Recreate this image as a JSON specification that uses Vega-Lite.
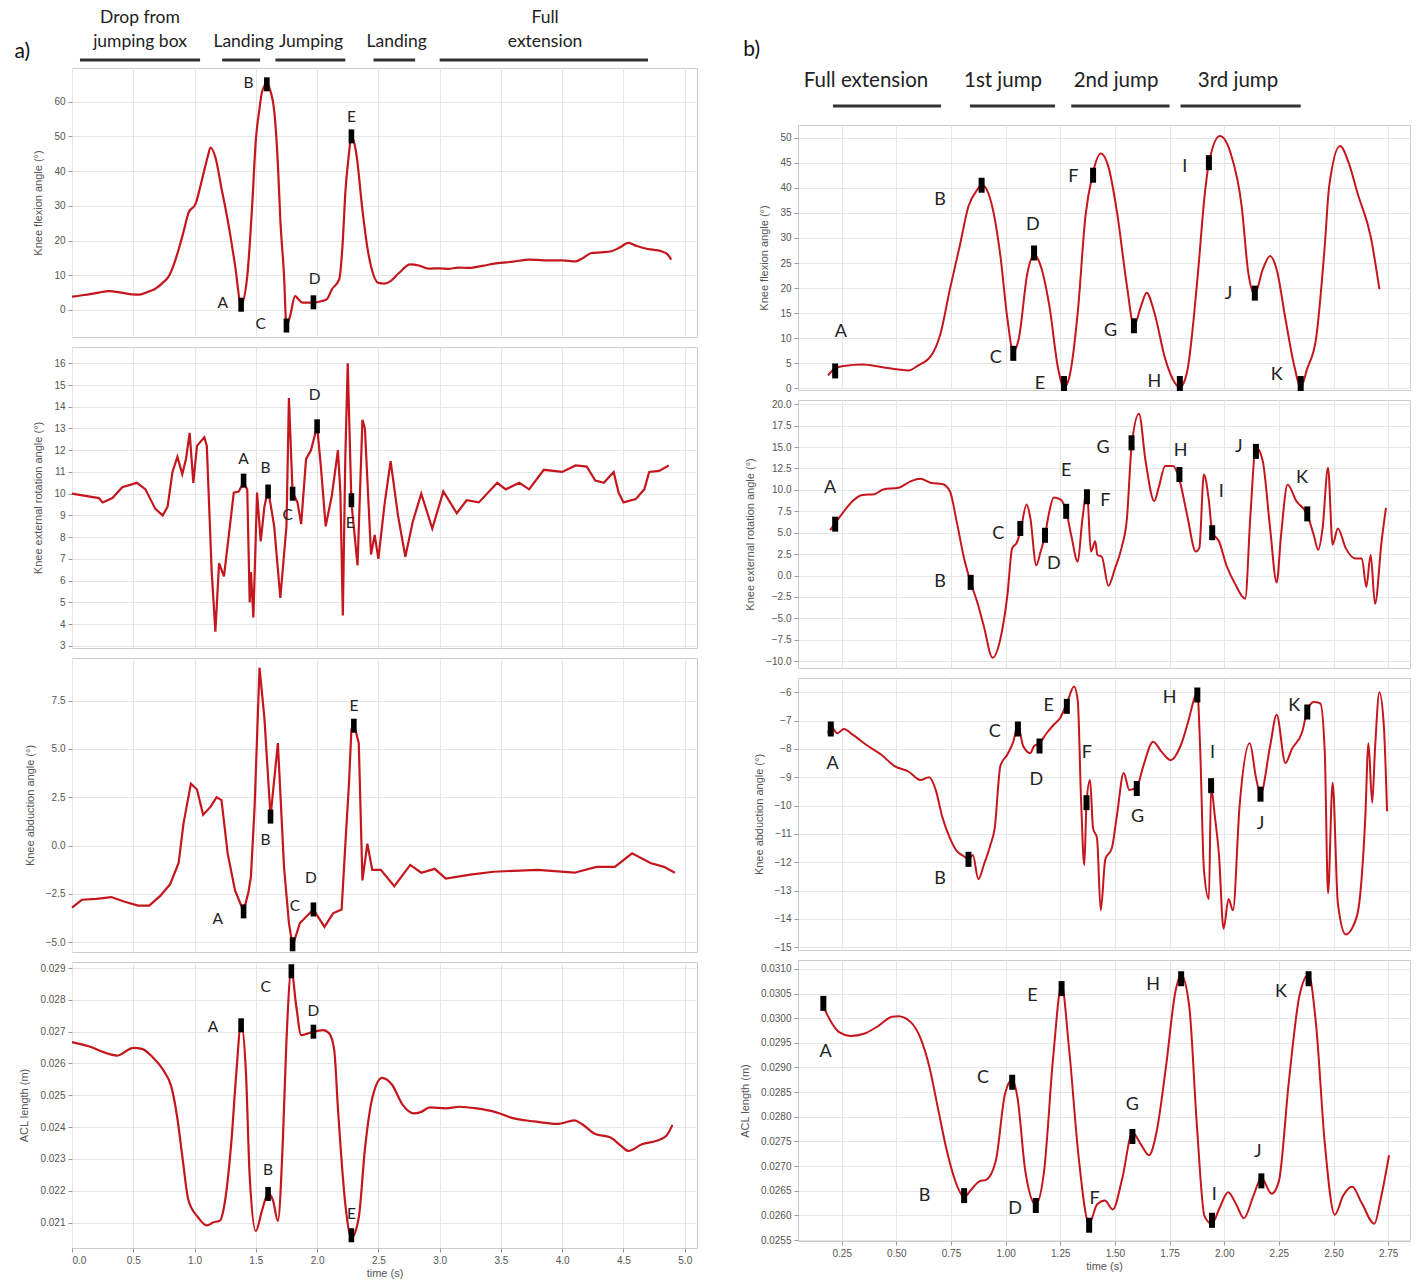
{
"$schema": "https://vega.github.io/schema/vega-lite/v6.json",
"background": "white",
"padding": {"left": 14, "top": 8, "right": 5, "bottom": 2},
"spacing": 40,
"datasets": {
"hdrA": [
{"tc": 0.555, "t0": 0.065, "t1": 1.045, "line1": "Drop from", "line2": "jumping box"},
{"tc": 1.40, "t0": 1.225, "t1": 1.535, "line1": "", "line2": "Landing"},
{"tc": 1.95, "t0": 1.66, "t1": 2.23, "line1": "", "line2": "Jumping"},
{"tc": 2.65, "t0": 2.46, "t1": 2.80, "line1": "", "line2": "Landing"},
{"tc": 3.86, "t0": 3.0, "t1": 4.70, "line1": "Full", "line2": "extension"}
],
"hdrB": [
{"tc": 0.361, "t0": 0.21, "t1": 0.704, "line2": "Full extension"},
{"tc": 0.988, "t0": 0.837, "t1": 1.226, "line2": "1st jump"},
{"tc": 1.505, "t0": 1.30, "t1": 1.75, "line2": "2nd jump"},
{"tc": 2.063, "t0": 1.80, "t1": 2.35, "line2": "3rd jump"}
],
"Lflex": [
{"t":0,"v":3.8},{"t":0.1,"v":4.3},{"t":0.22,"v":5.0},{"t":0.30,"v":5.4},{"t":0.40,"v":5.0},{"t":0.49,"v":4.5},{"t":0.55,"v":4.4},{"t":0.62,"v":5.2},{"t":0.68,"v":6.1},{"t":0.74,"v":7.8},{"t":0.79,"v":9.7},{"t":0.83,"v":13},{"t":0.87,"v":17.4},{"t":0.91,"v":22.5},{"t":0.95,"v":27.9},{"t":1.01,"v":30.7},{"t":1.05,"v":36},{"t":1.08,"v":40.3},{"t":1.11,"v":44.5},{"t":1.13,"v":46.8},{"t":1.17,"v":44},{"t":1.22,"v":35},{"t":1.28,"v":24},{"t":1.33,"v":13},{"t":1.38,"v":1.6},{"t":1.43,"v":9.7},{"t":1.47,"v":30},{"t":1.50,"v":48.9},{"t":1.53,"v":58},{"t":1.55,"v":62.7},{"t":1.59,"v":65.3},{"t":1.62,"v":63},{"t":1.65,"v":57.4},{"t":1.68,"v":42},{"t":1.70,"v":26},{"t":1.73,"v":10},{"t":1.75,"v":-4.6},{"t":1.78,"v":-1.7},{"t":1.82,"v":4.0},{"t":1.85,"v":3},{"t":1.88,"v":2.1},{"t":1.97,"v":2.1},{"t":2.04,"v":2.6},{"t":2.08,"v":3.1},{"t":2.12,"v":5.9},{"t":2.18,"v":8.8},{"t":2.21,"v":20},{"t":2.23,"v":33.6},{"t":2.26,"v":45},{"t":2.28,"v":50.3},{"t":2.32,"v":45},{"t":2.37,"v":28.8},{"t":2.41,"v":18},{"t":2.44,"v":12.6},{"t":2.50,"v":7.8},{"t":2.55,"v":7.6},{"t":2.60,"v":8.3},{"t":2.67,"v":10.7},{"t":2.76,"v":13.1},{"t":2.83,"v":12.8},{"t":2.91,"v":11.9},{"t":3.0,"v":12},{"t":3.07,"v":11.8},{"t":3.15,"v":12.2},{"t":3.24,"v":12.1},{"t":3.35,"v":12.7},{"t":3.46,"v":13.4},{"t":3.6,"v":13.9},{"t":3.73,"v":14.5},{"t":3.85,"v":14.3},{"t":4.00,"v":14.3},{"t":4.11,"v":14.0},{"t":4.18,"v":15.2},{"t":4.24,"v":16.4},{"t":4.32,"v":16.6},{"t":4.40,"v":16.9},{"t":4.47,"v":18},{"t":4.54,"v":19.3},{"t":4.61,"v":18.4},{"t":4.68,"v":17.7},{"t":4.75,"v":17.3},{"t":4.81,"v":16.9},{"t":4.86,"v":16},{"t":4.89,"v":14.5}
],
"MLflex": [
{"label":"A","t":1.38,"v":1.5,"lt":1.23,"lv":1.9},
{"label":"B","t":1.59,"v":65,"lt":1.44,"lv":65.3},
{"label":"C","t":1.75,"v":-4.5,"lt":1.54,"lv":-4.1},
{"label":"D","t":1.97,"v":2.2,"lt":1.98,"lv":8.8},
{"label":"E","t":2.28,"v":50,"lt":2.28,"lv":55.6}
],
"Lrot": [
{"t":0.0,"v":10.0},{"t":0.11,"v":9.9},{"t":0.22,"v":9.8},{"t":0.25,"v":9.6},{"t":0.33,"v":9.8},{"t":0.41,"v":10.3},{"t":0.53,"v":10.5},{"t":0.60,"v":10.2},{"t":0.68,"v":9.3},{"t":0.74,"v":9.0},{"t":0.78,"v":9.4},{"t":0.82,"v":11.0},{"t":0.86,"v":11.7},{"t":0.90,"v":10.9},{"t":0.93,"v":11.6},{"t":0.96,"v":12.8},{"t":0.99,"v":10.5},{"t":1.02,"v":12.2},{"t":1.08,"v":12.6},{"t":1.10,"v":12.2},{"t":1.14,"v":6.4},{"t":1.17,"v":3.65},{"t":1.20,"v":6.8},{"t":1.24,"v":6.2},{"t":1.28,"v":8.1},{"t":1.32,"v":10.05},{"t":1.36,"v":10.1},{"t":1.40,"v":10.5},{"t":1.43,"v":10.2},{"t":1.45,"v":5.0},{"t":1.46,"v":6.4},{"t":1.48,"v":4.3},{"t":1.51,"v":10.05},{"t":1.54,"v":7.8},{"t":1.57,"v":9.4},{"t":1.60,"v":10.2},{"t":1.65,"v":8.5},{"t":1.70,"v":5.2},{"t":1.75,"v":8.5},{"t":1.77,"v":14.4},{"t":1.80,"v":10.05},{"t":1.84,"v":9.6},{"t":1.87,"v":8.6},{"t":1.91,"v":11.6},{"t":1.95,"v":12.0},{"t":2.00,"v":13.1},{"t":2.03,"v":11.3},{"t":2.07,"v":8.5},{"t":2.12,"v":9.9},{"t":2.17,"v":12.0},{"t":2.19,"v":10.05},{"t":2.21,"v":4.4},{"t":2.23,"v":11.6},{"t":2.25,"v":16.0},{"t":2.28,"v":9.6},{"t":2.33,"v":6.7},{"t":2.37,"v":13.4},{"t":2.39,"v":13.0},{"t":2.44,"v":7.2},{"t":2.47,"v":8.1},{"t":2.50,"v":7.0},{"t":2.55,"v":9.5},{"t":2.60,"v":11.5},{"t":2.66,"v":9.0},{"t":2.72,"v":7.1},{"t":2.78,"v":8.7},{"t":2.85,"v":10.0},{"t":2.94,"v":8.4},{"t":3.03,"v":10.1},{"t":3.14,"v":9.1},{"t":3.22,"v":9.7},{"t":3.32,"v":9.6},{"t":3.47,"v":10.5},{"t":3.54,"v":10.2},{"t":3.65,"v":10.5},{"t":3.73,"v":10.2},{"t":3.85,"v":11.1},{"t":4.00,"v":11.0},{"t":4.11,"v":11.3},{"t":4.20,"v":11.25},{"t":4.27,"v":10.6},{"t":4.34,"v":10.5},{"t":4.42,"v":11.0},{"t":4.46,"v":10.05},{"t":4.50,"v":9.6},{"t":4.60,"v":9.75},{"t":4.67,"v":10.2},{"t":4.71,"v":11.0},{"t":4.79,"v":11.05},{"t":4.87,"v":11.3}
],
"MLrot": [
{"label":"A","t":1.40,"v":10.6,"lt":1.40,"lv":11.6},
{"label":"B","t":1.60,"v":10.1,"lt":1.58,"lv":11.2},
{"label":"C","t":1.80,"v":10.0,"lt":1.76,"lv":9.0},
{"label":"D","t":2.00,"v":13.1,"lt":1.98,"lv":14.55},
{"label":"E","t":2.28,"v":9.7,"lt":2.27,"lv":8.65}
],
"Labd": [
{"t":0,"v":-3.2},{"t":0.08,"v":-2.8},{"t":0.2,"v":-2.75},{"t":0.32,"v":-2.66},{"t":0.43,"v":-2.9},{"t":0.54,"v":-3.1},{"t":0.63,"v":-3.1},{"t":0.72,"v":-2.6},{"t":0.80,"v":-2.0},{"t":0.87,"v":-0.9},{"t":0.91,"v":1.15},{"t":0.97,"v":3.2},{"t":1.02,"v":2.9},{"t":1.07,"v":1.6},{"t":1.13,"v":2.0},{"t":1.18,"v":2.5},{"t":1.22,"v":2.35},{"t":1.27,"v":-0.4},{"t":1.33,"v":-2.3},{"t":1.40,"v":-3.4},{"t":1.44,"v":-2.4},{"t":1.46,"v":-1.6},{"t":1.49,"v":2.0},{"t":1.53,"v":9.2},{"t":1.57,"v":6.6},{"t":1.62,"v":1.5},{"t":1.68,"v":5.3},{"t":1.73,"v":-1.1},{"t":1.77,"v":-4.0},{"t":1.80,"v":-5.2},{"t":1.86,"v":-4.0},{"t":1.97,"v":-3.3},{"t":2.06,"v":-4.2},{"t":2.13,"v":-3.5},{"t":2.20,"v":-3.3},{"t":2.23,"v":0.0},{"t":2.26,"v":3.2},{"t":2.28,"v":6.0},{"t":2.30,"v":6.3},{"t":2.34,"v":5.3},{"t":2.37,"v":-1.8},{"t":2.41,"v":0.1},{"t":2.45,"v":-1.25},{"t":2.52,"v":-1.25},{"t":2.63,"v":-2.1},{"t":2.76,"v":-1.0},{"t":2.85,"v":-1.4},{"t":2.96,"v":-1.2},{"t":3.05,"v":-1.7},{"t":3.25,"v":-1.5},{"t":3.44,"v":-1.35},{"t":3.80,"v":-1.25},{"t":4.10,"v":-1.4},{"t":4.28,"v":-1.1},{"t":4.43,"v":-1.1},{"t":4.57,"v":-0.4},{"t":4.72,"v":-0.9},{"t":4.83,"v":-1.1},{"t":4.92,"v":-1.4}
],
"MLabd": [
{"label":"A","t":1.40,"v":-3.4,"lt":1.19,"lv":-3.8},
{"label":"B","t":1.62,"v":1.5,"lt":1.58,"lv":0.3},
{"label":"C","t":1.80,"v":-5.1,"lt":1.82,"lv":-3.1},
{"label":"D","t":1.97,"v":-3.3,"lt":1.95,"lv":-1.65},
{"label":"E","t":2.30,"v":6.2,"lt":2.30,"lv":7.2}
],
"Lacl": [
{"t":0,"v":0.02667},{"t":0.135,"v":0.02654},{"t":0.30,"v":0.0263},{"t":0.37,"v":0.02625},{"t":0.50,"v":0.02649},{"t":0.57,"v":0.02646},{"t":0.66,"v":0.02619},{"t":0.75,"v":0.02576},{"t":0.81,"v":0.02528},{"t":0.86,"v":0.02427},{"t":0.90,"v":0.02309},{"t":0.95,"v":0.0217},{"t":1.03,"v":0.02116},{"t":1.10,"v":0.02091},{"t":1.15,"v":0.021},{"t":1.21,"v":0.02107},{"t":1.24,"v":0.02148},{"t":1.30,"v":0.02352},{"t":1.34,"v":0.02566},{"t":1.38,"v":0.02726},{"t":1.42,"v":0.02566},{"t":1.45,"v":0.02245},{"t":1.50,"v":0.02073},{"t":1.55,"v":0.02137},{"t":1.60,"v":0.02191},{"t":1.64,"v":0.0217},{"t":1.68,"v":0.02105},{"t":1.72,"v":0.02352},{"t":1.75,"v":0.02673},{"t":1.79,"v":0.02892},{"t":1.83,"v":0.0278},{"t":1.87,"v":0.02689},{"t":1.92,"v":0.02694},{"t":1.97,"v":0.027},{"t":2.05,"v":0.02705},{"t":2.10,"v":0.02694},{"t":2.14,"v":0.02641},{"t":2.17,"v":0.02459},{"t":2.23,"v":0.02159},{"t":2.28,"v":0.02052},{"t":2.34,"v":0.02116},{"t":2.39,"v":0.0233},{"t":2.45,"v":0.02491},{"t":2.53,"v":0.02555},{"t":2.61,"v":0.02534},{"t":2.70,"v":0.02469},{"t":2.79,"v":0.02443},{"t":2.85,"v":0.02448},{"t":2.92,"v":0.02462},{"t":3.05,"v":0.02459},{"t":3.16,"v":0.02464},{"t":3.30,"v":0.02459},{"t":3.45,"v":0.02448},{"t":3.59,"v":0.02429},{"t":3.77,"v":0.02418},{"t":3.96,"v":0.0241},{"t":4.10,"v":0.02421},{"t":4.16,"v":0.0241},{"t":4.27,"v":0.02378},{"t":4.39,"v":0.02368},{"t":4.48,"v":0.02341},{"t":4.54,"v":0.02325},{"t":4.65,"v":0.02346},{"t":4.77,"v":0.02357},{"t":4.85,"v":0.02373},{"t":4.90,"v":0.02407}
],
"MLacl": [
{"label":"A","t":1.38,"v":0.0272,"lt":1.15,"lv":0.02714},
{"label":"B","t":1.60,"v":0.0219,"lt":1.60,"lv":0.02266},
{"label":"C","t":1.79,"v":0.0289,"lt":1.58,"lv":0.02841},
{"label":"D","t":1.97,"v":0.0270,"lt":1.97,"lv":0.02764},
{"label":"E","t":2.28,"v":0.0206,"lt":2.28,"lv":0.02127}
],
"Rflex": [
{"t":0.187,"v":2.6},{"t":0.22,"v":4.0},{"t":0.26,"v":4.5},{"t":0.345,"v":4.8},{"t":0.43,"v":4.3},{"t":0.51,"v":3.8},{"t":0.555,"v":3.6},{"t":0.60,"v":4.6},{"t":0.66,"v":6.6},{"t":0.70,"v":10.6},{"t":0.745,"v":19.8},{"t":0.79,"v":28.4},{"t":0.83,"v":36.3},{"t":0.87,"v":39.6},{"t":0.89,"v":40.6},{"t":0.91,"v":39.9},{"t":0.945,"v":35},{"t":0.976,"v":26.4},{"t":1.008,"v":13.9},{"t":1.035,"v":7.3},{"t":1.06,"v":9.9},{"t":1.10,"v":23.1},{"t":1.13,"v":26.7},{"t":1.155,"v":25.1},{"t":1.20,"v":16.5},{"t":1.24,"v":4.0},{"t":1.267,"v":0.2},{"t":1.29,"v":2.0},{"t":1.33,"v":15.2},{"t":1.365,"v":34.3},{"t":1.397,"v":42.5},{"t":1.435,"v":46.8},{"t":1.47,"v":44.2},{"t":1.51,"v":35},{"t":1.555,"v":20.4},{"t":1.587,"v":12.5},{"t":1.62,"v":16.5},{"t":1.645,"v":19.1},{"t":1.68,"v":15.2},{"t":1.73,"v":5.9},{"t":1.776,"v":1.0},{"t":1.797,"v":0.2},{"t":1.83,"v":3.3},{"t":1.88,"v":23.1},{"t":1.91,"v":38.3},{"t":1.93,"v":44.9},{"t":1.98,"v":50.3},{"t":2.03,"v":46.8},{"t":2.08,"v":36.3},{"t":2.11,"v":23.1},{"t":2.14,"v":18.8},{"t":2.176,"v":23.7},{"t":2.21,"v":26.4},{"t":2.24,"v":23.7},{"t":2.28,"v":13.9},{"t":2.32,"v":4.6},{"t":2.35,"v":0.3},{"t":2.38,"v":4.0},{"t":2.42,"v":9.9},{"t":2.46,"v":28.4},{"t":2.48,"v":40.2},{"t":2.53,"v":48.3},{"t":2.57,"v":44.9},{"t":2.61,"v":38.9},{"t":2.67,"v":30.3},{"t":2.71,"v":19.8}
],
"MRflex": [
{"label":"A","t":0.22,"v":3.5,"lt":0.246,"lv":11.2},
{"label":"B","t":0.89,"v":40.5,"lt":0.70,"lv":37.5},
{"label":"C","t":1.035,"v":7,"lt":0.955,"lv":6.1},
{"label":"D","t":1.13,"v":27,"lt":1.124,"lv":32.5},
{"label":"E","t":1.267,"v":1,"lt":1.157,"lv":0.9},
{"label":"F","t":1.40,"v":42.5,"lt":1.31,"lv":42.1},
{"label":"G","t":1.587,"v":12.5,"lt":1.48,"lv":11.5},
{"label":"H","t":1.797,"v":1,"lt":1.68,"lv":1.2},
{"label":"I","t":1.93,"v":45,"lt":1.82,"lv":44.2},
{"label":"J","t":2.14,"v":19,"lt":2.02,"lv":18.8},
{"label":"K","t":2.35,"v":1,"lt":2.24,"lv":2.6}
],
"Rrot": [
{"t":0.197,"v":5.3},{"t":0.22,"v":6.1},{"t":0.26,"v":7.5},{"t":0.30,"v":8.7},{"t":0.345,"v":9.4},{"t":0.40,"v":9.5},{"t":0.44,"v":10.05},{"t":0.51,"v":10.25},{"t":0.565,"v":11.0},{"t":0.61,"v":11.3},{"t":0.66,"v":10.8},{"t":0.71,"v":10.7},{"t":0.745,"v":9.85},{"t":0.776,"v":6.3},{"t":0.81,"v":2.0},{"t":0.84,"v":-0.8},{"t":0.87,"v":-3.1},{"t":0.90,"v":-5.9},{"t":0.94,"v":-9.6},{"t":0.976,"v":-7.4},{"t":1.008,"v":-2.3},{"t":1.03,"v":3.2},{"t":1.05,"v":3.8},{"t":1.067,"v":5.1},{"t":1.096,"v":8.3},{"t":1.113,"v":6.7},{"t":1.14,"v":1.2},{"t":1.16,"v":2.8},{"t":1.18,"v":4.7},{"t":1.197,"v":7.1},{"t":1.22,"v":9.1},{"t":1.25,"v":8.9},{"t":1.277,"v":7.5},{"t":1.30,"v":4.7},{"t":1.33,"v":1.6},{"t":1.35,"v":6.3},{"t":1.372,"v":9.85},{"t":1.39,"v":2.8},{"t":1.41,"v":4.0},{"t":1.42,"v":2.4},{"t":1.44,"v":2.2},{"t":1.47,"v":-1.2},{"t":1.50,"v":0.8},{"t":1.53,"v":3.2},{"t":1.555,"v":6.7},{"t":1.576,"v":15.0},{"t":1.61,"v":18.9},{"t":1.64,"v":13.4},{"t":1.68,"v":8.7},{"t":1.70,"v":10.25},{"t":1.73,"v":12.8},{"t":1.766,"v":12.8},{"t":1.793,"v":11.4},{"t":1.83,"v":7.1},{"t":1.87,"v":2.8},{"t":1.886,"v":3.2},{"t":1.907,"v":11.8},{"t":1.93,"v":8.7},{"t":1.945,"v":5.1},{"t":1.976,"v":4.0},{"t":2.01,"v":1.2},{"t":2.05,"v":-1.0},{"t":2.096,"v":-2.7},{"t":2.12,"v":7.1},{"t":2.145,"v":15.0},{"t":2.176,"v":13.4},{"t":2.21,"v":5.5},{"t":2.24,"v":-0.8},{"t":2.26,"v":4.7},{"t":2.29,"v":10.6},{"t":2.33,"v":8.7},{"t":2.38,"v":7.1},{"t":2.41,"v":4.7},{"t":2.43,"v":3.0},{"t":2.45,"v":5.5},{"t":2.475,"v":12.6},{"t":2.496,"v":3.6},{"t":2.52,"v":5.5},{"t":2.556,"v":3.2},{"t":2.60,"v":2.0},{"t":2.63,"v":2.0},{"t":2.65,"v":-1.35},{"t":2.67,"v":2.4},{"t":2.69,"v":-3.3},{"t":2.72,"v":4.0},{"t":2.74,"v":7.9}
],
"MRrot": [
{"label":"A","t":0.22,"v":6.0,"lt":0.197,"lv":10.25},
{"label":"B","t":0.84,"v":-0.8,"lt":0.70,"lv":-0.8},
{"label":"C","t":1.067,"v":5.5,"lt":0.966,"lv":4.9},
{"label":"D","t":1.18,"v":4.7,"lt":1.22,"lv":1.4},
{"label":"E","t":1.277,"v":7.5,"lt":1.277,"lv":12.2},
{"label":"F","t":1.372,"v":9.2,"lt":1.456,"lv":8.75},
{"label":"G","t":1.576,"v":15.5,"lt":1.446,"lv":14.9},
{"label":"H","t":1.795,"v":11.8,"lt":1.80,"lv":14.5},
{"label":"I","t":1.945,"v":5.0,"lt":1.987,"lv":9.8},
{"label":"J","t":2.145,"v":14.5,"lt":2.067,"lv":15.0},
{"label":"K","t":2.38,"v":7.2,"lt":2.356,"lv":11.4}
],
"Rabd": [
{"t":0.187,"v":-7.45},{"t":0.20,"v":-7.2},{"t":0.23,"v":-7.45},{"t":0.26,"v":-7.3},{"t":0.30,"v":-7.5},{"t":0.37,"v":-7.9},{"t":0.43,"v":-8.2},{"t":0.49,"v":-8.6},{"t":0.555,"v":-8.8},{"t":0.61,"v":-9.1},{"t":0.65,"v":-9.0},{"t":0.68,"v":-9.45},{"t":0.71,"v":-10.4},{"t":0.745,"v":-11.15},{"t":0.776,"v":-11.6},{"t":0.81,"v":-11.8},{"t":0.83,"v":-11.9},{"t":0.85,"v":-11.75},{"t":0.875,"v":-12.6},{"t":0.90,"v":-12.1},{"t":0.93,"v":-11.4},{"t":0.95,"v":-10.8},{"t":0.976,"v":-8.6},{"t":1.008,"v":-8.2},{"t":1.035,"v":-7.75},{"t":1.056,"v":-7.15},{"t":1.08,"v":-7.9},{"t":1.113,"v":-8.15},{"t":1.13,"v":-7.9},{"t":1.155,"v":-7.8},{"t":1.187,"v":-7.45},{"t":1.22,"v":-7.15},{"t":1.25,"v":-6.9},{"t":1.28,"v":-6.4},{"t":1.313,"v":-5.8},{"t":1.33,"v":-6.3},{"t":1.345,"v":-9.8},{"t":1.36,"v":-12.1},{"t":1.37,"v":-9.9},{"t":1.386,"v":-9.1},{"t":1.40,"v":-10.8},{"t":1.418,"v":-11.15},{"t":1.435,"v":-13.7},{"t":1.456,"v":-11.9},{"t":1.486,"v":-11.5},{"t":1.51,"v":-10.3},{"t":1.54,"v":-8.85},{"t":1.566,"v":-9.45},{"t":1.60,"v":-9.35},{"t":1.63,"v":-8.6},{"t":1.675,"v":-7.75},{"t":1.713,"v":-8.1},{"t":1.755,"v":-8.4},{"t":1.80,"v":-7.9},{"t":1.84,"v":-6.9},{"t":1.86,"v":-6.3},{"t":1.877,"v":-6.0},{"t":1.89,"v":-8.0},{"t":1.907,"v":-12.25},{"t":1.93,"v":-13.3},{"t":1.94,"v":-9.35},{"t":1.956,"v":-10.3},{"t":1.976,"v":-11.75},{"t":1.997,"v":-14.35},{"t":2.02,"v":-13.3},{"t":2.04,"v":-13.7},{"t":2.07,"v":-10.05},{"t":2.117,"v":-7.8},{"t":2.145,"v":-9.0},{"t":2.166,"v":-9.6},{"t":2.21,"v":-7.9},{"t":2.24,"v":-6.8},{"t":2.28,"v":-8.5},{"t":2.31,"v":-8.0},{"t":2.357,"v":-7.4},{"t":2.38,"v":-6.65},{"t":2.41,"v":-6.35},{"t":2.44,"v":-6.4},{"t":2.46,"v":-8.1},{"t":2.475,"v":-13.1},{"t":2.496,"v":-9.2},{"t":2.52,"v":-13.45},{"t":2.556,"v":-14.55},{"t":2.587,"v":-14.3},{"t":2.615,"v":-13.6},{"t":2.645,"v":-10.5},{"t":2.66,"v":-7.8},{"t":2.677,"v":-9.9},{"t":2.69,"v":-8.0},{"t":2.71,"v":-6.0},{"t":2.73,"v":-7.15},{"t":2.745,"v":-10.2}
],
"MRabd": [
{"label":"A","t":0.20,"v":-7.3,"lt":0.208,"lv":-8.55},
{"label":"B","t":0.83,"v":-11.9,"lt":0.70,"lv":-12.6},
{"label":"C","t":1.056,"v":-7.3,"lt":0.95,"lv":-7.4},
{"label":"D","t":1.155,"v":-7.9,"lt":1.14,"lv":-9.1},
{"label":"E","t":1.28,"v":-6.5,"lt":1.197,"lv":-6.5},
{"label":"F","t":1.37,"v":-9.9,"lt":1.372,"lv":-8.15},
{"label":"G","t":1.60,"v":-9.4,"lt":1.604,"lv":-10.4},
{"label":"H","t":1.877,"v":-6.1,"lt":1.75,"lv":-6.2},
{"label":"I","t":1.94,"v":-9.3,"lt":1.946,"lv":-8.15},
{"label":"J","t":2.166,"v":-9.6,"lt":2.166,"lv":-10.65},
{"label":"K","t":2.38,"v":-6.7,"lt":2.32,"lv":-6.5}
],
"Racl": [
{"t":0.166,"v":0.03024},{"t":0.197,"v":0.02996},{"t":0.24,"v":0.02971},{"t":0.29,"v":0.02964},{"t":0.355,"v":0.02969},{"t":0.42,"v":0.02985},{"t":0.48,"v":0.03003},{"t":0.51,"v":0.03004},{"t":0.566,"v":0.02992},{"t":0.61,"v":0.0296},{"t":0.65,"v":0.02903},{"t":0.69,"v":0.02818},{"t":0.73,"v":0.02733},{"t":0.776,"v":0.02662},{"t":0.81,"v":0.02637},{"t":0.84,"v":0.02651},{"t":0.88,"v":0.02669},{"t":0.91,"v":0.02672},{"t":0.955,"v":0.02711},{"t":0.997,"v":0.02846},{"t":1.03,"v":0.02875},{"t":1.054,"v":0.02839},{"t":1.09,"v":0.0269},{"t":1.138,"v":0.02622},{"t":1.176,"v":0.0269},{"t":1.218,"v":0.02924},{"t":1.256,"v":0.03067},{"t":1.29,"v":0.02939},{"t":1.334,"v":0.02718},{"t":1.382,"v":0.02583},{"t":1.418,"v":0.02622},{"t":1.454,"v":0.0263},{"t":1.49,"v":0.02612},{"t":1.534,"v":0.02676},{"t":1.58,"v":0.02768},{"t":1.62,"v":0.02743},{"t":1.656,"v":0.02722},{"t":1.69,"v":0.02768},{"t":1.734,"v":0.02903},{"t":1.776,"v":0.03052},{"t":1.803,"v":0.03088},{"t":1.84,"v":0.03024},{"t":1.875,"v":0.02782},{"t":1.91,"v":0.02598},{"t":1.944,"v":0.02583},{"t":1.976,"v":0.02612},{"t":2.018,"v":0.02647},{"t":2.055,"v":0.02622},{"t":2.09,"v":0.02594},{"t":2.134,"v":0.0264},{"t":2.17,"v":0.02676},{"t":2.217,"v":0.02644},{"t":2.25,"v":0.02669},{"t":2.295,"v":0.02868},{"t":2.344,"v":0.03045},{"t":2.386,"v":0.03088},{"t":2.42,"v":0.02988},{"t":2.46,"v":0.02747},{"t":2.506,"v":0.02601},{"t":2.544,"v":0.0264},{"t":2.586,"v":0.02658},{"t":2.628,"v":0.02626},{"t":2.687,"v":0.02583},{"t":2.716,"v":0.02633},{"t":2.754,"v":0.02722}
],
"MRacl": [
{"label":"A","t":0.166,"v":0.0303,"lt":0.176,"lv":0.02932},
{"label":"B","t":0.81,"v":0.0264,"lt":0.629,"lv":0.02639},
{"label":"C","t":1.03,"v":0.0287,"lt":0.896,"lv":0.02878},
{"label":"D","t":1.138,"v":0.0262,"lt":1.043,"lv":0.02612},
{"label":"E","t":1.256,"v":0.0306,"lt":1.123,"lv":0.03045},
{"label":"F","t":1.382,"v":0.0258,"lt":1.407,"lv":0.02633},
{"label":"G","t":1.58,"v":0.0276,"lt":1.58,"lv":0.02823},
{"label":"H","t":1.803,"v":0.0308,"lt":1.675,"lv":0.03067},
{"label":"I","t":1.944,"v":0.0259,"lt":1.955,"lv":0.02642},
{"label":"J","t":2.17,"v":0.0267,"lt":2.154,"lv":0.02729},
{"label":"K","t":2.386,"v":0.0308,"lt":2.26,"lv":0.03054}
]
},
"hconcat": [
{
"spacing": 10,
"bounds": "flush",
"vconcat": [
{
"width": 625, "height": 50, "view": {"stroke": null},
"layer": [
{"data": {"name": "hdrA"}, "mark": {"type": "rule", "strokeWidth": 3, "color": "#333333"},
 "encoding": {"x": {"field": "t0", "type": "quantitative", "scale": {"domain": [0, 5.1], "nice": false, "zero": false}, "axis": null}, "x2": {"field": "t1"}, "y": {"datum": 1.04, "type": "quantitative", "scale": {"domain": [0, 1], "reverse": true, "nice": false}, "axis": null}}},
{"data": {"name": "hdrA"}, "mark": {"type": "text", "font": "Lato", "fontSize": 17.5, "color": "#222222"},
 "encoding": {"x": {"field": "tc", "type": "quantitative"}, "y": {"datum": 0.2, "type": "quantitative"}, "text": {"field": "line1"}}},
{"data": {"name": "hdrA"}, "mark": {"type": "text", "font": "Lato", "fontSize": 17.5, "color": "#222222"},
 "encoding": {"x": {"field": "tc", "type": "quantitative"}, "y": {"datum": 0.68, "type": "quantitative"}, "text": {"field": "line2"}}},
{"data": {"values": [{"tag": "a)", "t": -0.47}]}, "mark": {"type": "text", "font": "Lato", "fontSize": 21, "align": "left", "color": "#111111"},
 "encoding": {"x": {"field": "t", "type": "quantitative"}, "y": {"datum": 0.88, "type": "quantitative"}, "text": {"field": "tag"}}}
]
},
{
"width": 625, "height": 269,
"layer": [
{"data": {"name": "Lflex"}, "mark": {"type": "line", "color": "#c4161c", "strokeWidth": 2.2, "interpolate": "monotone"},
 "encoding": {"x": {"field": "t", "type": "quantitative", "scale": {"domain": [0, 5.1], "nice": false, "zero": false}, "axis": {"values": [0,0.5,1,1.5,2,2.5,3,3.5,4,4.5,5], "tickCount": 100, "labels": false, "ticks": false, "title": null}},
 "y": {"field": "v", "type": "quantitative", "scale": {"domain": [-7.8, 69.7], "nice": false, "zero": false}, "axis": {"title": "Knee flexion angle (°)", "values": [0,10,20,30,40,50,60], "tickCount": 100, "format": "d"}}}},
{"data": {"name": "MLflex"}, "mark": {"type": "point", "shape": "M-0.4,-1H0.4V1H-0.4Z", "filled": true, "color": "#000000", "size": 196, "opacity": 1},
 "encoding": {"x": {"field": "t", "type": "quantitative"}, "y": {"field": "v", "type": "quantitative"}}},
{"data": {"name": "MLflex"}, "mark": {"type": "text", "font": "Lato", "fontSize": 15.5, "color": "#222222"},
 "encoding": {"x": {"field": "lt", "type": "quantitative"}, "y": {"field": "lv", "type": "quantitative"}, "text": {"field": "label"}}}
]
},
{
"width": 625, "height": 301,
"layer": [
{"data": {"name": "Lrot"}, "mark": {"type": "line", "color": "#c4161c", "strokeWidth": 2.2},
 "encoding": {"x": {"field": "t", "type": "quantitative", "scale": {"domain": [0, 5.1], "nice": false, "zero": false}, "axis": {"values": [0,0.5,1,1.5,2,2.5,3,3.5,4,4.5,5], "tickCount": 100, "labels": false, "ticks": false, "title": null}},
 "y": {"field": "v", "type": "quantitative", "scale": {"domain": [2.9, 16.75], "nice": false, "zero": false}, "axis": {"title": "Knee external rotation angle (°)", "values": [3,4,5,6,7,8,9,10,11,12,13,14,15,16], "tickCount": 100, "format": "d"}}}},
{"data": {"name": "MLrot"}, "mark": {"type": "point", "shape": "M-0.4,-1H0.4V1H-0.4Z", "filled": true, "color": "#000000", "size": 196, "opacity": 1},
 "encoding": {"x": {"field": "t", "type": "quantitative"}, "y": {"field": "v", "type": "quantitative"}}},
{"data": {"name": "MLrot"}, "mark": {"type": "text", "font": "Lato", "fontSize": 15.5, "color": "#222222"},
 "encoding": {"x": {"field": "lt", "type": "quantitative"}, "y": {"field": "lv", "type": "quantitative"}, "text": {"field": "label"}}}
]
},
{
"width": 625, "height": 294,
"layer": [
{"data": {"name": "Labd"}, "mark": {"type": "line", "color": "#c4161c", "strokeWidth": 2.2},
 "encoding": {"x": {"field": "t", "type": "quantitative", "scale": {"domain": [0, 5.1], "nice": false, "zero": false}, "axis": {"values": [0,0.5,1,1.5,2,2.5,3,3.5,4,4.5,5], "tickCount": 100, "labels": false, "ticks": false, "title": null}},
 "y": {"field": "v", "type": "quantitative", "scale": {"domain": [-5.5, 9.7], "nice": false, "zero": false}, "axis": {"title": "Knee abduction angle (°)", "values": [-5,-2.5,0,2.5,5,7.5], "tickCount": 100, "format": ".1f"}}}},
{"data": {"name": "MLabd"}, "mark": {"type": "point", "shape": "M-0.4,-1H0.4V1H-0.4Z", "filled": true, "color": "#000000", "size": 196, "opacity": 1},
 "encoding": {"x": {"field": "t", "type": "quantitative"}, "y": {"field": "v", "type": "quantitative"}}},
{"data": {"name": "MLabd"}, "mark": {"type": "text", "font": "Lato", "fontSize": 15.5, "color": "#222222"},
 "encoding": {"x": {"field": "lt", "type": "quantitative"}, "y": {"field": "lv", "type": "quantitative"}, "text": {"field": "label"}}}
]
},
{
"width": 625, "height": 286,
"layer": [
{"data": {"name": "Lacl"}, "mark": {"type": "line", "color": "#c4161c", "strokeWidth": 2.2, "interpolate": "monotone"},
 "encoding": {"x": {"field": "t", "type": "quantitative", "scale": {"domain": [0, 5.1], "nice": false, "zero": false}, "axis": {"values": [0,0.5,1,1.5,2,2.5,3,3.5,4,4.5,5], "tickCount": 100, "format": ".1f", "title": "time (s)"}},
 "y": {"field": "v", "type": "quantitative", "scale": {"domain": [0.0202, 0.02919], "nice": false, "zero": false}, "axis": {"title": "ACL length (m)", "values": [0.021,0.022,0.023,0.024,0.025,0.026,0.027,0.028,0.029], "tickCount": 100, "format": ".3f"}}}},
{"data": {"name": "MLacl"}, "mark": {"type": "point", "shape": "M-0.4,-1H0.4V1H-0.4Z", "filled": true, "color": "#000000", "size": 196, "opacity": 1},
 "encoding": {"x": {"field": "t", "type": "quantitative"}, "y": {"field": "v", "type": "quantitative"}}},
{"data": {"name": "MLacl"}, "mark": {"type": "text", "font": "Lato", "fontSize": 15.5, "color": "#222222"},
 "encoding": {"x": {"field": "lt", "type": "quantitative"}, "y": {"field": "lv", "type": "quantitative"}, "text": {"field": "label"}}}
]
}
]
},
{
"spacing": 10,
"bounds": "flush",
"vconcat": [
{
"width": 612, "height": 107, "view": {"stroke": null},
"layer": [
{"data": {"name": "hdrB"}, "mark": {"type": "rule", "strokeWidth": 3, "color": "#333333"},
 "encoding": {"x": {"field": "t0", "type": "quantitative", "scale": {"domain": [0.05, 2.85], "nice": false, "zero": false}, "axis": null}, "x2": {"field": "t1"}, "y": {"datum": 0.916, "type": "quantitative", "scale": {"domain": [0, 1], "reverse": true, "nice": false}, "axis": null}}},
{"data": {"name": "hdrB"}, "mark": {"type": "text", "font": "Lato", "fontSize": 20.5, "color": "#222222"},
 "encoding": {"x": {"field": "tc", "type": "quantitative"}, "y": {"datum": 0.68, "type": "quantitative"}, "text": {"field": "line2"}}},
{"data": {"values": [{"tag": "b)", "t": -0.2}]}, "mark": {"type": "text", "font": "Lato", "fontSize": 21, "align": "left", "color": "#111111"},
 "encoding": {"x": {"field": "t", "type": "quantitative"}, "y": {"datum": 0.39, "type": "quantitative"}, "text": {"field": "tag"}}}
]
},
{
"width": 612, "height": 265,
"layer": [
{"data": {"name": "Rflex"}, "mark": {"type": "line", "color": "#c4161c", "strokeWidth": 2, "interpolate": "monotone"},
 "encoding": {"x": {"field": "t", "type": "quantitative", "scale": {"domain": [0.05, 2.85], "nice": false, "zero": false}, "axis": {"values": [0.25,0.5,0.75,1,1.25,1.5,1.75,2,2.25,2.5,2.75], "tickCount": 100, "labels": false, "ticks": false, "title": null}},
 "y": {"field": "v", "type": "quantitative", "scale": {"domain": [-0.3, 52.5], "nice": false, "zero": false}, "axis": {"title": "Knee flexion angle (°)", "values": [0,5,10,15,20,25,30,35,40,45,50], "tickCount": 100, "format": "d"}}}},
{"data": {"name": "MRflex"}, "mark": {"type": "point", "shape": "M-0.4,-1H0.4V1H-0.4Z", "filled": true, "color": "#000000", "size": 225, "opacity": 1},
 "encoding": {"x": {"field": "t", "type": "quantitative"}, "y": {"field": "v", "type": "quantitative"}}},
{"data": {"name": "MRflex"}, "mark": {"type": "text", "font": "Lato", "fontSize": 18, "color": "#222222"},
 "encoding": {"x": {"field": "lt", "type": "quantitative"}, "y": {"field": "lv", "type": "quantitative"}, "text": {"field": "label"}}}
]
},
{
"width": 612, "height": 268,
"layer": [
{"data": {"name": "Rrot"}, "mark": {"type": "line", "color": "#c4161c", "strokeWidth": 2, "interpolate": "monotone"},
 "encoding": {"x": {"field": "t", "type": "quantitative", "scale": {"domain": [0.05, 2.85], "nice": false, "zero": false}, "axis": {"values": [0.25,0.5,0.75,1,1.25,1.5,1.75,2,2.25,2.5,2.75], "tickCount": 100, "labels": false, "ticks": false, "title": null}},
 "y": {"field": "v", "type": "quantitative", "scale": {"domain": [-10.8, 20.5], "nice": false, "zero": false}, "axis": {"title": "Knee external rotation angle (°)", "values": [-10,-7.5,-5,-2.5,0,2.5,5,7.5,10,12.5,15,17.5,20], "tickCount": 100, "format": ".1f"}}}},
{"data": {"name": "MRrot"}, "mark": {"type": "point", "shape": "M-0.4,-1H0.4V1H-0.4Z", "filled": true, "color": "#000000", "size": 225, "opacity": 1},
 "encoding": {"x": {"field": "t", "type": "quantitative"}, "y": {"field": "v", "type": "quantitative"}}},
{"data": {"name": "MRrot"}, "mark": {"type": "text", "font": "Lato", "fontSize": 18, "color": "#222222"},
 "encoding": {"x": {"field": "lt", "type": "quantitative"}, "y": {"field": "lv", "type": "quantitative"}, "text": {"field": "label"}}}
]
},
{
"width": 612, "height": 272,
"layer": [
{"data": {"name": "Rabd"}, "mark": {"type": "line", "color": "#c4161c", "strokeWidth": 2, "interpolate": "monotone"},
 "encoding": {"x": {"field": "t", "type": "quantitative", "scale": {"domain": [0.05, 2.85], "nice": false, "zero": false}, "axis": {"values": [0.25,0.5,0.75,1,1.25,1.5,1.75,2,2.25,2.5,2.75], "tickCount": 100, "labels": false, "ticks": false, "title": null}},
 "y": {"field": "v", "type": "quantitative", "scale": {"domain": [-15.1, -5.5], "nice": false, "zero": false}, "axis": {"title": "Knee abduction angle (°)", "values": [-15,-14,-13,-12,-11,-10,-9,-8,-7,-6], "tickCount": 100, "format": "d"}}}},
{"data": {"name": "MRabd"}, "mark": {"type": "point", "shape": "M-0.4,-1H0.4V1H-0.4Z", "filled": true, "color": "#000000", "size": 225, "opacity": 1},
 "encoding": {"x": {"field": "t", "type": "quantitative"}, "y": {"field": "v", "type": "quantitative"}}},
{"data": {"name": "MRabd"}, "mark": {"type": "text", "font": "Lato", "fontSize": 18, "color": "#222222"},
 "encoding": {"x": {"field": "lt", "type": "quantitative"}, "y": {"field": "lv", "type": "quantitative"}, "text": {"field": "label"}}}
]
},
{
"width": 612, "height": 281,
"layer": [
{"data": {"name": "Racl"}, "mark": {"type": "line", "color": "#c4161c", "strokeWidth": 2, "interpolate": "monotone"},
 "encoding": {"x": {"field": "t", "type": "quantitative", "scale": {"domain": [0.05, 2.85], "nice": false, "zero": false}, "axis": {"values": [0.25,0.5,0.75,1,1.25,1.5,1.75,2,2.25,2.5,2.75], "tickCount": 100, "format": ".2f", "title": "time (s)"}},
 "y": {"field": "v", "type": "quantitative", "scale": {"domain": [0.02548, 0.03118], "nice": false, "zero": false}, "axis": {"title": "ACL length (m)", "values": [0.0255,0.026,0.0265,0.027,0.0275,0.028,0.0285,0.029,0.0295,0.03,0.0305,0.031], "tickCount": 100, "format": ".4f"}}}},
{"data": {"name": "MRacl"}, "mark": {"type": "point", "shape": "M-0.4,-1H0.4V1H-0.4Z", "filled": true, "color": "#000000", "size": 225, "opacity": 1},
 "encoding": {"x": {"field": "t", "type": "quantitative"}, "y": {"field": "v", "type": "quantitative"}}},
{"data": {"name": "MRacl"}, "mark": {"type": "text", "font": "Lato", "fontSize": 18, "color": "#222222"},
 "encoding": {"x": {"field": "lt", "type": "quantitative"}, "y": {"field": "lv", "type": "quantitative"}, "text": {"field": "label"}}}
]
}
]
}
],
"config": {
"view": {"stroke": "#cccccc", "fill": "white"},
"axis": {"labelFont": "Liberation Sans", "labelFontSize": 10, "labelColor": "#555555", "titleFont": "Liberation Sans", "titleFontSize": 11, "titleFontWeight": "normal", "titleColor": "#555555", "gridColor": "#e6e6e6", "domain": false, "tickColor": "#999999", "tickSize": 4, "labelPadding": 3, "titlePadding": 10, "grid": true, "labelOverlap": false},
"axisX": {"titlePadding": 2}
}
}
